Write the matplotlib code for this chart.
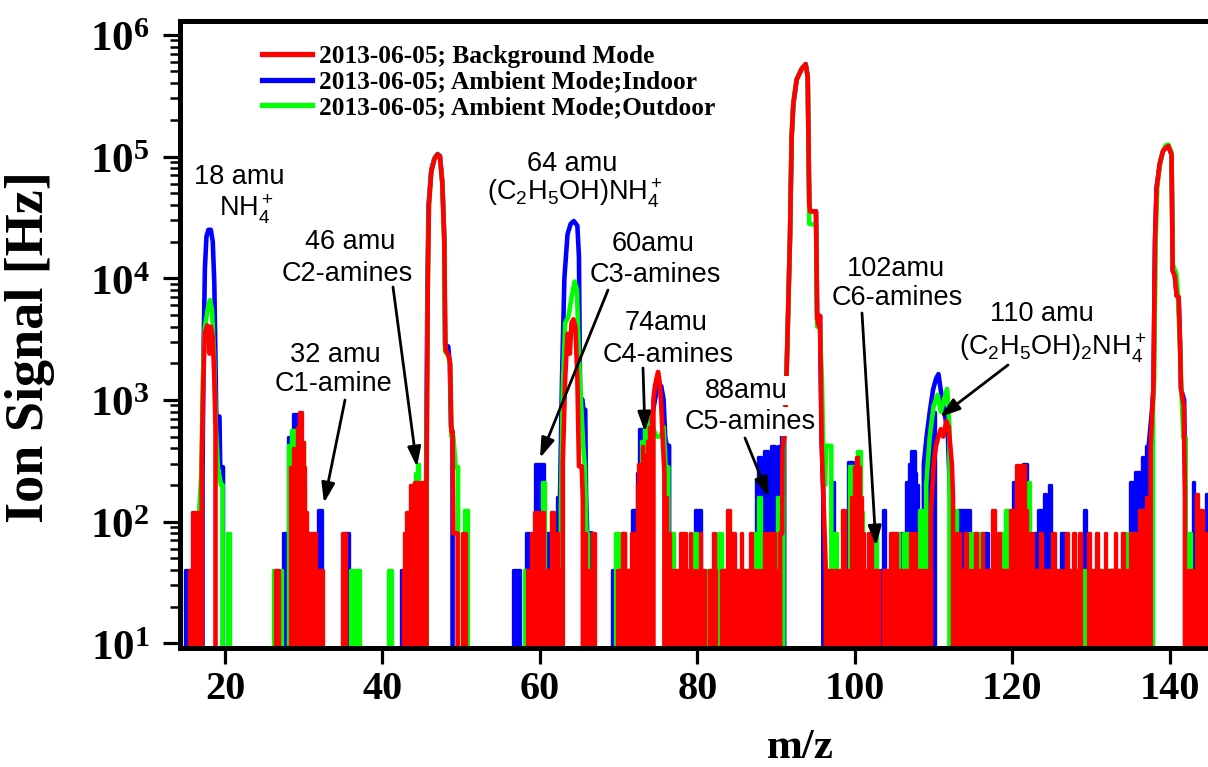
import matplotlib
matplotlib.use('Agg')
import matplotlib.pyplot as plt
from matplotlib.lines import Line2D
from matplotlib.ticker import LogLocator, FuncFormatter, NullFormatter, FixedLocator
import numpy as np

plt.rcParams['mathtext.fontset'] = 'custom'
plt.rcParams['mathtext.rm'] = 'Liberation Sans'
plt.rcParams['mathtext.it'] = 'Liberation Sans:italic'
plt.rcParams['mathtext.bf'] = 'Liberation Serif:bold'

# ---------------- data (m/z, ion signal in Hz) ----------------
series_labels = ['2013-06-05; Background Mode',
                 '2013-06-05; Ambient Mode;Indoor',
                 '2013-06-05; Ambient Mode;Outdoor']

# --- Ambient indoor (blue): main peak traces ---
blue_mz = [17.1, 17.15, 17.3, 17.45, 17.65, 17.9, 18.2, 18.45, 18.65, 18.8, 18.9, 19.3, 19.4, 19.75, 19.8,
           45.5, 45.55, 45.7, 45.85, 46.2, 46.6, 47.0, 47.3, 47.6, 47.85, 47.95, 48.35, 48.55, 48.7, 48.9, 49.0,
           62.5, 62.55, 62.8, 63.1, 63.5, 63.9, 64.3, 64.75, 64.95, 65.1, 65.4, 65.5, 65.75, 65.85, 66.0, 66.6, 66.65,
           73.85, 73.9, 74.2, 74.6, 75.0, 75.4, 75.7, 75.9, 76.1, 76.4, 76.5,
           90.95, 91.0, 91.33, 91.75, 91.96, 92.17, 92.6, 93.23, 93.74, 94.0, 94.2, 94.3, 95.05, 95.2, 95.45, 95.56, 95.77, 95.98, 96.05,
           108.7, 108.75, 109.1, 109.5, 109.9, 110.3, 110.6, 110.9, 111.2, 111.5, 111.8, 112.1, 112.15,
           137.25, 137.3, 137.7, 137.9, 138.1, 138.3, 138.7, 139.1, 139.4, 139.8, 140.2, 140.35, 140.6, 140.85, 141.1, 141.27, 141.4, 141.8, 141.95, 142.05]
blue_hz = [0, 250, 3000, 12000, 22000, 25000, 25000, 20000, 9000, 2000, 730, 730, 280, 280, 0,
           0, 250, 8000, 40000, 78000, 97000, 105000, 101000, 62000, 22000, 2800, 2750, 2000, 600, 550, 0,
           0, 170, 1500, 10000, 23000, 28000, 29500, 27000, 15000, 1070, 1000, 830, 830, 170, 80, 80, 0,
           0, 450, 700, 1000, 1320, 1300, 1000, 500, 420, 420, 0,
           0, 540, 1800, 21600, 145000, 270000, 430000, 525000, 575000, 450000, 40000, 35500, 35500, 4650, 4000, 4900, 450, 168, 0,
           0, 300, 500, 800, 1200, 1500, 1630, 1200, 900, 700, 500, 150, 0,
           0, 420, 800, 1230, 20000, 55000, 87000, 110000, 117000, 121000, 104000, 11500, 11000, 7200, 7000, 3100, 1230, 1000, 170, 0]
# blue noise / small clusters: (m/z from, m/z to, Hz)
blue_blocks = [(14.9, 15.5, 40), (27.4, 27.8, 80),
               (28.0, 28.6, 500), (28.6, 29.4, 760), (29.4, 29.7, 500), (29.7, 29.9, 300), (29.9, 30.1, 120),
               (31.85, 32.3, 125), (35.2, 35.7, 80), (42.4, 42.8, 40), (43.9, 44.4, 200), (45.3, 45.45, 160),
               (56.6, 57.5, 40), (58.2, 58.6, 80), (59.4, 60.5, 300), (60.7, 61.1, 80), (62.1, 62.4, 160),
               (69.2, 69.5, 40), (70.4, 70.8, 80), (71.7, 72.1, 125),
               (72.3, 72.6, 250), (72.6, 73.2, 575), (73.2, 73.5, 500), (73.5, 73.9, 600),
               (79.7, 80.5, 125), (82.9, 83.5, 40), (86.4, 86.8, 40),
               (87.45, 87.7, 220), (87.7, 88.1, 340), (88.1, 88.4, 220), (88.4, 88.9, 380), (88.9, 89.3, 250),
               (89.3, 89.9, 420), (89.9, 90.2, 300), (90.2, 90.6, 420), (90.6, 91.0, 540),
               (97.1, 97.3, 210), (99.1, 99.7, 310), (103.2, 103.4, 40), (103.5, 103.8, 125), (105.9, 106.4, 80),
               (106.5, 106.8, 210), (106.8, 107.1, 300), (107.1, 107.6, 380), (107.6, 107.8, 250), (107.8, 108.0, 200),
               (108.8, 109.6, 300), (109.6, 110.2, 800),
               (113.1, 114.6, 125), (116.3, 116.9, 80), (120.1, 120.5, 210), (121.4, 121.8, 295), (122.7, 123.1, 80),
               (123.3, 123.7, 125), (123.95, 124.2, 170), (124.6, 124.9, 200), (126.2, 126.7, 80), (129.1, 129.3, 125),
               (132.2, 133.5, 40), (134.95, 135.3, 210), (135.3, 135.5, 80), (135.5, 136.2, 255), (136.2, 136.4, 120),
               (136.4, 137.0, 340), (137.0, 137.3, 420), (142.9, 143.1, 210), (144.6, 144.8, 170)]

# --- Ambient outdoor (green): main peak traces ---
green_mz = [16.6, 16.65, 17.0, 17.2, 17.45, 17.8, 18.1, 18.35, 18.6, 18.85, 19.1, 19.5, 19.7, 19.75,
            45.55, 45.6, 45.75, 45.9, 46.2, 46.6, 47.0, 47.3, 47.6, 47.85, 47.95, 48.4, 48.6, 48.75, 49.0, 49.3, 49.6, 49.65,
            62.6, 62.65, 62.9, 63.2, 63.6, 64.0, 64.4, 64.7, 64.9, 65.2, 65.5, 65.7, 65.9, 66.1, 66.15,
            73.3, 73.35, 73.6, 74.0, 74.3, 74.8, 75.3, 75.7, 76.0, 76.3, 76.4,
            90.85, 90.9, 91.33, 91.75, 91.96, 92.17, 92.6, 93.23, 93.74, 94.0, 94.2, 95.05, 95.2, 95.5, 95.8, 96.0, 96.2, 96.35, 97.0, 97.05,
            109.0, 109.05, 109.5, 110.0, 110.5, 110.9, 111.3, 111.7, 112.0, 112.2,
            137.8, 137.85, 138.0, 138.2, 138.4, 138.8, 139.2, 139.5, 139.8, 140.2, 140.35, 140.8, 141.0, 141.3, 141.5, 141.7, 142.0, 142.05]
green_hz = [0, 100, 250, 1500, 4000, 5500, 6600, 5500, 2500, 600, 280, 200, 200, 0,
            0, 300, 8000, 40000, 76000, 96000, 104000, 100000, 60000, 20000, 2500, 2300, 1900, 500, 500, 280, 280, 0,
            0, 120, 1200, 4300, 4800, 6900, 9400, 8000, 2750, 1000, 415, 283, 80, 80, 0,
            0, 700, 700, 450, 600, 500, 500, 600, 250, 280, 0,
            0, 400, 1800, 21600, 145000, 270000, 430000, 525000, 575000, 450000, 28000, 27500, 4000, 4500, 1500, 300, 200, 420, 420, 0,
            0, 200, 500, 900, 1100, 800, 1000, 1230, 600, 0,
            0, 900, 1500, 22000, 58000, 92000, 115000, 124000, 125000, 108000, 13000, 11000, 7500, 2500, 1000, 490, 490, 0]
green_blocks = [(20.3, 20.6, 80), (26.1, 26.6, 40), (26.9, 27.3, 40),
                (28.0, 28.4, 430), (28.4, 29.2, 570), (29.2, 29.4, 520), (29.4, 29.7, 80), (29.7, 30.0, 450), (30.0, 30.2, 200),
                (35.9, 36.4, 40), (36.6, 37.1, 40), (40.7, 41.2, 40),
                (43.8, 44.1, 80), (44.1, 44.4, 250), (44.4, 44.7, 295), (44.7, 45.0, 200),
                (50.4, 50.8, 125), (58.0, 58.4, 40), (60.3, 60.7, 210), (61.9, 62.3, 40), (66.3, 66.8, 40),
                (69.5, 70.1, 80), (70.9, 71.3, 40),
                (72.45, 72.8, 200), (72.8, 73.3, 460),
                (76.6, 77.0, 80), (77.6, 78.0, 40), (79.5, 79.9, 80), (81.2, 81.9, 40), (82.6, 83.1, 80), (85.2, 85.8, 40),
                (86.9, 87.5, 80), (87.7, 88.1, 160), (90.05, 90.5, 160), (97.4, 97.7, 80),
                (99.25, 99.85, 285), (99.85, 100.2, 250), (100.2, 100.8, 380), (100.8, 101.0, 120),
                (102.1, 102.8, 80), (104.8, 105.6, 80), (106.1, 107.0, 80), (108.1, 108.5, 125),
                (112.6, 113.0, 125), (114.2, 114.6, 80), (115.0, 115.9, 80), (118.4, 118.8, 80), (119.05, 119.7, 125),
                (121.8, 122.2, 210), (127.3, 127.6, 40), (128.8, 129.4, 40), (130.9, 131.3, 40), (132.4, 133.3, 40),
                (134.1, 134.9, 80), (142.3, 142.7, 80)]

# --- Background (red): main peak traces ---
red_mz = [17.0, 17.05, 17.25, 17.45, 17.75, 17.95, 18.05, 18.2, 18.45, 18.65, 18.8, 18.9,
          45.55, 45.6, 45.75, 45.9, 46.2, 46.6, 47.0, 47.3, 47.6, 47.85, 48.0, 48.4, 48.6, 48.75, 48.9, 49.0, 49.55, 49.6,
          62.85, 62.9, 63.2, 63.5, 63.8, 64.0, 64.25, 64.5, 64.75, 64.95, 65.3, 65.45, 65.5,
          74.35, 74.4, 74.6, 74.8, 75.0, 75.2, 75.4, 75.6, 75.8, 75.85,
          90.45, 90.5, 90.75, 90.8, 91.1, 91.33, 91.75, 91.96, 92.17, 92.6, 93.23, 93.74, 94.0, 94.2, 94.3, 95.05, 95.2, 95.45, 95.56, 95.77, 95.98, 96.3, 96.35,
          109.6, 109.65, 110.0, 110.3, 110.6, 110.9, 111.2, 111.6, 111.9, 112.3, 112.45, 112.5,
          137.5, 137.55, 137.75, 137.9, 138.1, 138.3, 138.7, 139.1, 139.4, 139.8, 140.2, 140.35, 140.6, 140.85, 141.1, 141.27, 141.4, 141.75, 141.9, 142.05]
red_hz = [0, 300, 1500, 3500, 4100, 3700, 2400, 4000, 3300, 1500, 600, 0,
          0, 200, 8000, 40000, 75000, 95000, 104000, 100000, 60000, 20000, 2600, 2300, 2000, 550, 550, 80, 80, 0,
          0, 300, 1500, 3500, 2400, 4300, 4600, 4000, 1500, 285, 285, 150, 0,
          0, 1000, 1300, 1500, 1700, 1400, 900, 460, 250, 0,
          0, 80, 80, 400, 540, 1800, 21600, 145000, 270000, 430000, 525000, 575000, 450000, 40000, 35500, 35500, 4650, 4000, 4900, 450, 168, 40, 0,
          0, 120, 300, 420, 500, 575, 500, 670, 600, 300, 160, 0,
          0, 420, 800, 1230, 20000, 55000, 87000, 110000, 117000, 122000, 104000, 11500, 10500, 7200, 7000, 3100, 1230, 900, 170, 0]
red_blocks = [(15.4, 15.7, 40), (15.8, 17.0, 120), (26.3, 26.9, 40),
              (28.2, 28.6, 280), (28.6, 28.9, 400), (28.9, 29.1, 280), (29.1, 29.4, 600), (29.4, 29.8, 800),
              (29.8, 30.0, 450), (30.0, 30.2, 280), (30.2, 30.4, 120),
              (30.5, 31.6, 80), (31.9, 32.4, 40), (34.8, 35.35, 80),
              (42.6, 42.75, 40), (42.75, 43.0, 80), (43.0, 43.5, 120), (43.5, 43.7, 200), (43.7, 44.0, 120),
              (44.0, 44.7, 210), (44.7, 44.9, 120), (44.9, 45.1, 210),
              (50.1, 50.6, 80),
              (58.3, 58.9, 40), (58.9, 59.3, 80), (59.3, 59.7, 120), (59.7, 60.1, 80), (60.1, 60.5, 120),
              (60.5, 61.4, 40), (61.4, 61.8, 120), (61.8, 62.3, 80), (62.3, 62.85, 40),
              (65.5, 65.9, 80), (65.9, 66.4, 40), (66.6, 67.0, 80),
              (69.8, 70.3, 40), (70.4, 70.8, 80), (70.9, 71.6, 40), (71.6, 72.05, 80),
              (72.05, 72.3, 80), (72.3, 72.5, 200), (72.5, 72.7, 300), (72.7, 72.9, 250), (72.9, 73.1, 420),
              (73.1, 73.25, 200), (73.3, 73.5, 350), (73.55, 73.75, 460), (73.8, 74.0, 600), (74.05, 74.3, 800),
              (75.9, 76.15, 160), (76.15, 76.55, 80),
              (76.7, 77.5, 40), (77.8, 78.6, 80), (78.7, 79.0, 40), (79.0, 79.2, 80), (79.3, 79.6, 40),
              (79.9, 80.3, 40), (80.3, 80.5, 80), (80.5, 80.9, 40), (81.5, 82.0, 40), (82.0, 82.2, 80), (82.2, 82.4, 40),
              (83.0, 83.5, 40), (83.7, 84.1, 125), (84.3, 84.8, 80), (84.95, 85.15, 40), (85.5, 85.7, 80), (85.7, 86.2, 40),
              (86.4, 86.7, 40), (86.7, 86.9, 80), (86.9, 87.2, 40), (87.4, 88.2, 40),
              (88.3, 88.5, 40), (88.5, 88.7, 80), (88.7, 88.9, 40), (89.0, 89.2, 80), (89.4, 89.8, 80), (89.9, 90.4, 40),
              (96.4, 97.3, 40), (97.5, 98.2, 40), (98.3, 98.7, 125), (98.8, 99.5, 40),
              (99.5, 99.9, 160), (99.9, 100.1, 280), (100.1, 100.4, 340), (100.4, 100.6, 280), (100.6, 100.9, 160), (100.9, 101.1, 80),
              (101.2, 101.5, 40), (101.6, 102.2, 80), (102.3, 103.0, 40), (103.5, 104.3, 40), (104.4, 105.3, 80),
              (105.4, 105.9, 40), (106.0, 106.6, 40), (106.6, 107.0, 40), (107.0, 107.8, 80), (107.8, 108.4, 40), (108.5, 109.6, 40),
              (112.6, 113.4, 80), (113.4, 114.0, 40), (114.0, 114.2, 80), (114.2, 114.5, 40), (114.6, 115.3, 40),
              (115.3, 115.5, 80), (115.5, 116.1, 40), (116.1, 116.3, 80), (116.3, 116.9, 40), (117.0, 117.3, 40),
              (117.35, 117.8, 125), (117.9, 118.2, 40), (118.2, 118.4, 80), (118.4, 119.0, 40), (119.1, 119.7, 40),
              (119.7, 120.4, 125), (120.5, 121.6, 290), (121.7, 121.9, 125), (121.9, 122.1, 40), (122.2, 122.6, 80),
              (122.7, 123.5, 40), (123.5, 123.7, 80), (123.7, 124.3, 40), (124.5, 125.0, 40), (125.0, 125.4, 80),
              (125.5, 126.1, 40), (126.5, 126.8, 40), (126.8, 127.0, 80), (127.0, 127.5, 40), (127.7, 127.9, 80),
              (128.0, 128.5, 40), (128.5, 128.7, 80), (129.6, 129.8, 80), (129.9, 130.6, 40), (130.6, 130.8, 80),
              (130.8, 131.4, 40), (131.7, 131.9, 80), (132.0, 133.0, 40), (133.0, 133.2, 80), (133.2, 133.6, 40),
              (133.9, 134.1, 80), (134.3, 134.8, 40), (134.9, 135.6, 80), (135.7, 136.0, 80), (136.1, 136.4, 125),
              (136.6, 136.9, 125), (137.0, 137.3, 160),
              (142.2, 143.2, 40), (143.3, 143.5, 170), (143.6, 143.75, 40), (143.8, 144.2, 125), (144.3, 144.8, 80)]

xticks = [20, 40, 60, 80, 100, 120, 140]

# ---------------- figure ----------------
W, H = 1208, 767
fig = plt.figure(figsize=(W / 100, H / 100), dpi=100)
AX_L, AX_R, AX_T, AX_B = 180, 1208, 21, 648
ax = fig.add_axes([AX_L / W, (H - AX_B) / H, (AX_R - AX_L) / W, (AX_B - AX_T) / H])
ax.set_yscale('log')
ax.set_xlim(14.29, 144.83)
ax.set_ylim(9.15, 1.30e6)

LW = 3.3
LWB = 2.4
def draw(mz, hz, blocks, color, z):
    ax.plot(mz, hz, color=color, lw=LW, solid_joinstyle='round', solid_capstyle='round', zorder=z)
    lo = [b[0] for b in blocks]
    wd = [b[1] - b[0] for b in blocks]
    hv = [b[2] for b in blocks]
    ax.bar(lo, hv, width=wd, align='edge', color=color, edgecolor=color,
           linewidth=LWB, joinstyle='round', zorder=z)

draw(blue_mz, blue_hz, blue_blocks, '#0000ff', 2.0)
draw(green_mz, green_hz, green_blocks, '#00ff00', 2.1)
draw(red_mz, red_hz, red_blocks, '#ff0000', 2.2)

# axes styling
for s in ['left', 'bottom', 'top']:
    ax.spines[s].set_linewidth(3.6)
ax.spines['right'].set_visible(False)
ax.xaxis.set_major_locator(FixedLocator(xticks))
ax.tick_params(axis='x', which='major', direction='out', length=11.5, width=2.3, pad=5, top=False)
ax.tick_params(axis='x', which='minor', bottom=False, top=False)
ax.yaxis.set_major_locator(LogLocator(base=10, numticks=10))
ax.yaxis.set_minor_locator(LogLocator(base=10, subs=np.arange(2, 10), numticks=20))
ax.yaxis.set_minor_formatter(NullFormatter())
ax.yaxis.set_major_formatter(FuncFormatter(lambda v, p: r'$\mathbf{10^{%d}}$' % int(round(np.log10(v)))))
ax.tick_params(axis='y', which='major', direction='out', length=12, width=2.3, pad=10, right=False)
ax.tick_params(axis='y', which='minor', direction='out', length=7, width=1.8, right=False)
for lab in ax.get_xticklabels():
    lab.set_fontfamily('Liberation Serif')
    lab.set_fontweight('bold')
    lab.set_fontsize(29)
for lab in ax.get_yticklabels():
    lab.set_fontsize(31)

# axis labels
fig.text(800 / W, (H - 758) / H, 'm/z', ha='center', va='baseline', fontsize=31,
         family='Liberation Serif', weight='bold')
fig.text(30 / W, (H - 347) / H, 'Ion Signal [Hz]', ha='center', va='center', rotation=90,
         fontsize=39, family='Liberation Serif', weight='bold')

# legend
handles = [Line2D([], [], color='#ff0000', lw=3.8),
           Line2D([], [], color='#0000ff', lw=3.8),
           Line2D([], [], color='#00ff00', lw=3.8)]
def axf(px, py):
    return ((px - AX_L) / (AX_R - AX_L), (AX_B - py) / (AX_B - AX_T))
ax.legend(handles, [series_labels[0], series_labels[1], series_labels[2]], loc='upper left',
          bbox_to_anchor=axf(262, 45), frameon=False, borderpad=0, borderaxespad=0,
          handlelength=1.95, handletextpad=0.3, labelspacing=0.1,
          prop={'family': 'Liberation Serif', 'weight': 'bold', 'size': 18.3})

# annotations (text, center x px, baseline y px)
FS = 19.5
labels = [("18 amu", 239, 183.7), ("NH$_4^+$", 246, 216.7),
          ("46 amu", 350, 248.7), ("C2-amines", 347, 280.7),
          ("32 amu", 335, 361.7), ("C1-amine", 333, 390.7),
          ("64 amu", 572, 170.7), ("(C$_2$H$_5$OH)NH$_4^+$", 575, 200.7),
          ("60amu", 653, 250.7), ("C3-amines", 655, 281.7),
          ("74amu", 666, 329.7), ("C4-amines", 668, 361.7),
          ("102amu", 896, 275.7), ("C6-amines", 897, 304.7),
          ("110 amu", 1042, 320.7), ("(C$_2$H$_5$OH)$_2$NH$_4^+$", 1053, 355.7)]
for t, px, py in labels:
    ax.text(*axf(px, py), t, transform=ax.transAxes, ha='center', va='baseline',
            fontsize=FS, family='Liberation Sans', zorder=5)
for t, px, py in [("88amu", 746, 397.7), ("C5-amines", 750, 428.7)]:
    ax.text(*axf(px, py), t, transform=ax.transAxes, ha='center', va='baseline',
            fontsize=FS, family='Liberation Sans', zorder=5,
            bbox=dict(facecolor='white', edgecolor='none', pad=1.0))

arrows = [((345, 400), (324, 503)), ((393, 287), (417, 467)), ((608, 290), (540, 458)),
          ((643, 368), (645, 432)), ((745, 438), (769, 497)), ((862, 313), (876, 546)),
          ((1008, 365), (940, 417))]
for (sx, sy), (tx, ty) in arrows:
    ax.annotate('', xy=axf(tx, ty), xytext=axf(sx, sy), xycoords='axes fraction',
                textcoords='axes fraction', zorder=6,
                arrowprops=dict(arrowstyle='-|>,head_length=0.6,head_width=0.2', color='k',
                                lw=2.0, mutation_scale=20, shrinkA=0, shrinkB=0))

fig.savefig('out.png', dpi=100)
